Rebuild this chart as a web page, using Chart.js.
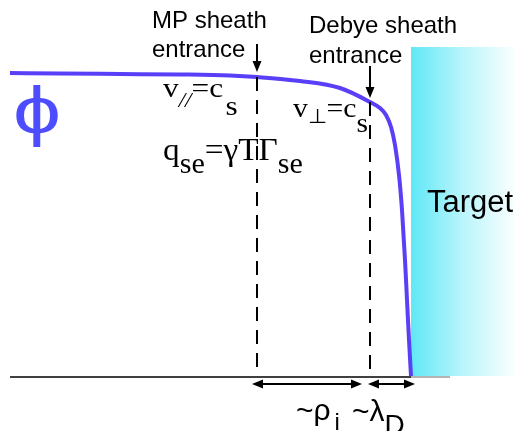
<!DOCTYPE html>
<html lang="en">
<head>
<meta charset="UTF-8">
<title>Sheath potential</title>
<script src="https://cdn.jsdelivr.net/npm/chart.js"></script>
<style>
    body { margin: 0; background: #ffffff; }
    #wrap { width: 515px; height: 431px; position: relative; }
</style>
</head>
<body>
<div id="wrap"><canvas id="chart"></canvas></div>
<script>
// distance along the flux tube (left = upstream plasma, right = target) and potential phi
const distance  = [10, 60, 120, 180, 230, 257, 300, 340, 370, 380, 386, 391, 395, 399, 402, 405, 407, 409, 411];
const potential = [303, 302.5, 302, 301.5, 300.5, 299, 295, 288, 274, 268, 261, 249, 231, 201, 166, 116, 76, 36, 0];

// sheath entrances and target surface
const mpSheathX = 257;
const debyeSheathX = 370;
const targetX = 411;
const targetTop = 329;
const baselineX = [10, 411];
const baselineGrayX = [411, 450];

const toPts = (xs, ys) => xs.map((x, i) => ({ x: x, y: ys[i] }));

// gradient target block, drawn under the lines
const targetPlugin = {
    id: 'target',
    beforeDatasetsDraw(chart) {
        const { ctx, scales: { x, y } } = chart;
        const x0 = x.getPixelForValue(targetX), x1 = x.getPixelForValue(515);
        const y0 = y.getPixelForValue(targetTop), y1 = y.getPixelForValue(0);
        const g = ctx.createLinearGradient(x0, 0, x1, 0);
        g.addColorStop(0, '#5fe8f6');
        g.addColorStop(0.5, '#b9f5fb');
        g.addColorStop(1, '#fbffff');
        ctx.save();
        ctx.fillStyle = g;
        ctx.fillRect(x0, y0, x1 - x0, y1 - y0);
        ctx.restore();
    }
};

// text made of runs (subscripts etc), optionally stretched sideways
function drawRuns(ctx, x, y, runs, sx) {
    ctx.save();
    ctx.translate(x, y);
    ctx.scale(sx || 1, 1);
    let cx = 0;
    runs.forEach(r => {
        ctx.font = r.font;
        ctx.fillText(r.t, cx, r.dy || 0);
        cx += ctx.measureText(r.t).width + (r.gap || 0);
    });
    ctx.restore();
}

function arrowHead(ctx, x, y, dx, dy, len, half) {
    // tip at (x,y), pointing along (dx,dy)
    const px = -dy, py = dx;
    ctx.beginPath();
    ctx.moveTo(x, y);
    ctx.lineTo(x - dx * len + px * half, y - dy * len + py * half);
    ctx.lineTo(x - dx * len - px * half, y - dy * len - py * half);
    ctx.closePath();
    ctx.fill();
}

const labelPlugin = {
    id: 'labels',
    afterDraw(chart) {
        const { ctx, scales: { x, y } } = chart;
        const sans = '"Liberation Sans", Arial, sans-serif';
        const serif = '"Liberation Serif", "Times New Roman", serif';
        ctx.save();
        ctx.fillStyle = '#000';
        ctx.strokeStyle = '#000';
        ctx.textBaseline = 'alphabetic';

        // headers
        ctx.font = '24px ' + sans;
        ctx.fillText('MP sheath', 152, 28);
        ctx.fillText('entrance', 152, 57);
        ctx.fillText('Debye sheath', 309, 33);
        ctx.fillText('entrance', 309, 63);

        // down arrows at the sheath entrances
        ctx.lineWidth = 2;
        [[mpSheathX, 44, 72], [debyeSheathX, 66, 98]].forEach(([xv, t, b]) => {
            const px = x.getPixelForValue(xv);
            ctx.beginPath();
            ctx.moveTo(px, t);
            ctx.lineTo(px, b - 8);
            ctx.stroke();
            arrowHead(ctx, px, b, 0, 1, 11, 4.5);
        });

        // double arrows under the base line
        const ay = 384;
        [[252, 362], [368, 415]].forEach(([a, b]) => {
            ctx.beginPath();
            ctx.moveTo(a + 6, ay);
            ctx.lineTo(b - 6, ay);
            ctx.stroke();
            arrowHead(ctx, a, ay, -1, 0, 11, 4.5);
            arrowHead(ctx, b, ay, 1, 0, 11, 4.5);
        });

        // phi
        ctx.fillStyle = '#4d4dff';
        drawRuns(ctx, 13, 133, [{ t: '\u03D5', font: '66px ' + sans }], 1.3);
        ctx.fillStyle = '#000';

        // serif formulas
        drawRuns(ctx, 163, 97, [
            { t: 'v', font: '27px ' + serif },
            { t: '//', font: 'italic 20px ' + serif, dy: 10 },
            { t: '=c', font: '27px ' + serif, gap: 2 },
            { t: 's', font: '27px ' + serif, dy: 18 }
        ], 1.16);
        drawRuns(ctx, 163, 160, [
            { t: 'q', font: '32px ' + serif },
            { t: 'se', font: '29px ' + serif, dy: 13 },
            { t: '=\u03B3T\u0393', font: '32px ' + serif },
            { t: 'se', font: '29px ' + serif, dy: 13 }
        ], 1.04);
        drawRuns(ctx, 293, 117, [
            { t: 'v', font: '27px ' + serif },
            { t: '\u22A5', font: '20px ' + serif, dy: 6 },
            { t: '=c', font: '27px ' + serif },
            { t: 's', font: '27px ' + serif, dy: 15 }
        ], 1.1);

        // Target
        ctx.font = '31px ' + sans;
        ctx.fillText('Target', 427, 212);

        // length scales
        drawRuns(ctx, 296, 420, [
            { t: '~\u03C1', font: '30px ' + sans, gap: 4 },
            { t: 'i', font: '24px ' + sans, dy: 10 }
        ]);
        drawRuns(ctx, 352, 421, [
            { t: '~\u03BB', font: '30px ' + sans },
            { t: 'D', font: '28px ' + sans, dy: 13 }
        ]);
        ctx.restore();
    }
};

const line = (pts, color, width, dash) => ({
    data: pts,
    borderColor: color,
    borderWidth: width,
    borderDash: dash || [],
    pointRadius: 0,
    fill: false,
    tension: 0
});

new Chart(document.getElementById('chart'), {
    type: 'line',
    data: {
        datasets: [
            line(toPts(baselineX, [-1, -1]), '#000', 1.6),
            line(toPts(baselineGrayX, [-1, -1]), '#9a9a9a', 1.6),
            line(toPts([mpSheathX, mpSheathX], [299, 0]), '#000', 2, [14, 9]),
            line(toPts([debyeSheathX, debyeSheathX], [274, 0]), '#000', 2, [14, 9]),
            Object.assign(line(toPts(distance, potential), '#5a3ff8', 4), { cubicInterpolationMode: 'monotone' })
        ]
    },
    options: {
        responsive: true,
        maintainAspectRatio: false,
        animation: false,
        layout: { padding: 0 },
        plugins: { legend: { display: false }, tooltip: { enabled: false } },
        scales: {
            x: { type: 'linear', min: 0, max: 515, display: false },
            y: { type: 'linear', min: -55, max: 376, display: false }
        }
    },
    plugins: [targetPlugin, labelPlugin]
});
</script>
</body>
</html>
